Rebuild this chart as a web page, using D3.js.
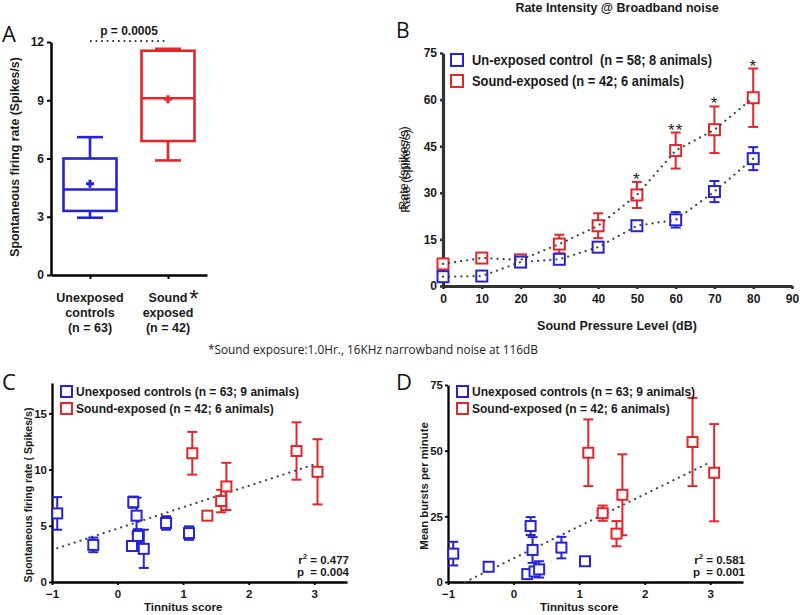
<!DOCTYPE html>
<html>
<head>
<meta charset="utf-8">
<script src="https://cdn.jsdelivr.net/npm/d3@7"></script>
<style>
  body { margin: 0; background: #fff; }
  svg { display: block; }
</style>
</head>
<body>
<svg id="chart" width="800" height="615"></svg>
<script>
// ---- panel A: box plot
const groupsA = ["Unexposed controls", "Sound exposed"];
const groupLinesA = [["Unexposed", "controls", "(n = 63)"], ["Sound", "exposed", "(n = 42)"]];
const boxMin = [2.95, 5.9];
const boxQ1 = [3.3, 6.9];
const boxMed = [4.4, 9.1];
const boxQ3 = [6.0, 11.55];
const boxMax = [7.1, 11.65];
const boxMean = [4.7, 9.05];
const ticksA = [0, 3, 6, 9, 12];

// ---- panel B: rate intensity
const splLevels = [0, 10, 20, 30, 40, 50, 60, 70, 80];
const ctrlRate = [3.0, 3.2, 7.7, 8.6, 12.5, 19.4, 21.3, 30.4, 41.0];
const ctrlErr = [0.8, 0.8, 1.5, 1.0, 1.5, 1.0, 2.5, 3.4, 3.7];
const expRate = [7.1, 9.0, 8.4, 13.5, 19.4, 29.3, 43.6, 50.3, 60.6];
const expErr = [1.2, 1.0, 1.0, 3.0, 4.0, 4.2, 5.8, 7.5, 9.4];
const sigMarks = ["", "", "", "", "", "*", "**", "*", "*"];
const ticksBx = [0, 10, 20, 30, 40, 50, 60, 70, 80, 90];
const ticksBy = [0, 15, 30, 45, 60, 75];

// ---- panel C: spontaneous rate vs tinnitus score
const ctrlScoreC = [-0.92, -0.37, 0.22, 0.24, 0.29, 0.31, 0.40, 0.74, 1.09];
const ctrlRateC = [6.1, 3.3, 3.2, 7.1, 5.9, 4.1, 2.95, 5.25, 4.35];
const ctrlErrC = [1.45, 0.65, 0.4, 0.5, 1.6, 0.6, 1.7, 0.6, 0.6];
const expScoreC = [1.14, 1.37, 1.58, 1.66, 2.73, 3.05];
const expRateC = [11.45, 5.9, 7.2, 8.5, 11.65, 9.8];
const expErrC = [1.9, 0, 1.0, 2.1, 2.55, 2.9];
const fitC = { intercept: 4.75, slope: 1.9, from: -0.92, to: 3.0 };
const statsC = ["0.477", "0.004"];

// ---- panel D: bursts vs tinnitus score
const ctrlScoreD = [-0.92, -0.38, 0.21, 0.26, 0.29, 0.32, 0.39, 0.73, 1.09];
const ctrlBurstD = [10.8, 5.8, 3.0, 21.3, 12.2, 4.0, 4.8, 13.1, 7.9];
const ctrlErrD = [4.5, 1.0, 0, 3.4, 4.9, 1.0, 3.1, 4.1, 0];
const expScoreD = [1.14, 1.36, 1.57, 1.66, 2.73, 3.06];
const expBurstD = [49.2, 26.2, 18.4, 33.2, 53.3, 41.6];
const expErrD = [12.7, 2.9, 4.8, 15.4, 16.8, 18.5];
const fitD = { intercept: 9.0, slope: 12.2, from: -0.74, to: 2.97 };
const statsD = ["0.581", "0.001"];
const ticksScore = [-1, 0, 1, 2, 3];

const BLUE = "#2424d6";
const RED = "#e3262b";
const FONT = "'Liberation Sans', Arial, sans-serif";
const SOFT = "'Open Sans', 'Noto Sans', sans-serif";

const svg = d3.select("#chart");

function styleAxis(g, w, color, size) {
  g.select(".domain").attr("stroke", color || "#000").attr("stroke-width", w);
  g.selectAll(".tick line").attr("stroke", color || "#000").attr("stroke-width", w * 0.8);
  g.selectAll(".tick text")
    .attr("font-family", FONT)
    .attr("font-weight", "bold")
    .attr("font-size", size || 12)
    .attr("fill", "#1a1a1a");
}

function label(g, txt, x, y, opts) {
  opts = opts || {};
  return g.append("text")
    .attr("x", x).attr("y", y)
    .attr("font-family", opts.family || FONT)
    .attr("font-weight", opts.weight || "bold")
    .attr("font-size", opts.size || 12)
    .attr("text-anchor", opts.anchor || "start")
    .attr("fill", opts.fill || "#1a1a1a")
    .attr("transform", opts.rotate ? `rotate(-90,${x},${y})` : null)
    .style("white-space", "pre")
    .text(txt);
}

// ================= Panel A =================
{
  const g = svg.append("g");
  const x = d3.scalePoint().domain(groupsA).range([51, 207]).padding(0.5);
  const y = d3.scaleLinear().domain([0, 12]).range([275, 42]);
  const colors = [BLUE, RED];
  const bw = 53;

  g.append("g").attr("transform", "translate(51,0)")
    .call(d3.axisLeft(y).tickValues(ticksA).tickSize(4).tickSizeOuter(0))
    .call((a) => styleAxis(a, 2.5));
  g.append("g").attr("transform", "translate(0,275)")
    .call(d3.axisBottom(x).tickSize(4).tickSizeOuter(0).tickFormat(""))
    .call((a) => styleAxis(a, 2.5));

  groupsA.forEach((grp, i) => {
    const cx = x(grp);
    const c = colors[i];
    const bg = g.append("g").attr("stroke", c).attr("stroke-width", 2.6).attr("fill", "none");
    // whiskers
    bg.append("line").attr("x1", cx).attr("x2", cx).attr("y1", y(boxMax[i])).attr("y2", y(boxQ3[i]));
    bg.append("line").attr("x1", cx).attr("x2", cx).attr("y1", y(boxQ1[i])).attr("y2", y(boxMin[i]));
    bg.append("line").attr("x1", cx - 13).attr("x2", cx + 13).attr("y1", y(boxMax[i])).attr("y2", y(boxMax[i]));
    bg.append("line").attr("x1", cx - 13).attr("x2", cx + 13).attr("y1", y(boxMin[i])).attr("y2", y(boxMin[i]));
    bg.append("rect").attr("x", cx - bw / 2).attr("width", bw)
      .attr("y", y(boxQ3[i])).attr("height", y(boxQ1[i]) - y(boxQ3[i]));
    bg.append("line").attr("x1", cx - bw / 2).attr("x2", cx + bw / 2).attr("y1", y(boxMed[i])).attr("y2", y(boxMed[i]));
    // mean plus
    bg.append("line").attr("x1", cx - 4).attr("x2", cx + 4).attr("y1", y(boxMean[i])).attr("y2", y(boxMean[i])).attr("stroke-width", 3);
    bg.append("line").attr("x1", cx).attr("x2", cx).attr("y1", y(boxMean[i]) - 4).attr("y2", y(boxMean[i]) + 4).attr("stroke-width", 3);

    groupLinesA[i].forEach((ln, k) => label(g, ln, cx, 302 + k * 15, { anchor: "middle", size: 12.5 }));
  });
  label(g, "*", 194, 307, { size: 24, weight: "normal", anchor: "middle" });

  // significance bar
  g.append("line").attr("x1", x(groupsA[0])).attr("x2", x(groupsA[1])).attr("y1", 41).attr("y2", 41)
    .attr("stroke", "#333").attr("stroke-width", 1.8).attr("stroke-dasharray", "1.6,4");
  label(g, "p = 0.0005", (x(groupsA[0]) + x(groupsA[1])) / 2, 35, { anchor: "middle", size: 12 });

  label(g, "Spontaneous firing rate (Spikes/s)", 19, 157, { anchor: "middle", rotate: true, size: 12.3 });
  label(g, "A", 2, 42, { family: SOFT, weight: "normal", size: 22, fill: "#111" });
}

// ================= Panel B =================
{
  const g = svg.append("g");
  const x = d3.scaleLinear().domain([0, 90]).range([443, 792]);
  const y = d3.scaleLinear().domain([0, 75]).range([286, 53]);

  g.append("g").attr("transform", "translate(443,0)")
    .call(d3.axisLeft(y).tickValues(ticksBy).tickSize(3).tickSizeOuter(0))
    .call((a) => styleAxis(a, 3.2, "#333"));
  g.append("g").attr("transform", "translate(0,286)")
    .call(d3.axisBottom(x).tickValues(ticksBx).tickSize(3).tickSizeOuter(0).tickPadding(5))
    .call((a) => styleAxis(a, 3.2, "#333"));

  const series = [
    { v: expRate, e: expErr, c: RED },
    { v: ctrlRate, e: ctrlErr, c: BLUE }
  ];
  const line = d3.line().x((d) => x(d[0])).y((d) => y(d[1]));
  series.forEach((s) => {
    const pts = splLevels.map((l, i) => [l, s.v[i], s.e[i]]);
    const eg = g.append("g").attr("stroke", s.c).attr("stroke-width", 2);
    pts.forEach((p) => {
      if (p[2] <= 0) return;
      eg.append("line").attr("x1", x(p[0])).attr("x2", x(p[0])).attr("y1", y(p[1] + p[2])).attr("y2", y(p[1] - p[2]));
      eg.append("line").attr("x1", x(p[0]) - 5).attr("x2", x(p[0]) + 5).attr("y1", y(p[1] + p[2])).attr("y2", y(p[1] + p[2]));
      eg.append("line").attr("x1", x(p[0]) - 5).attr("x2", x(p[0]) + 5).attr("y1", y(p[1] - p[2])).attr("y2", y(p[1] - p[2]));
    });
    g.append("g").selectAll("rect").data(pts).join("rect")
      .attr("x", (d) => x(d[0]) - 5.5).attr("y", (d) => y(d[1]) - 5.5)
      .attr("width", 11).attr("height", 11)
      .attr("fill", "#fff").attr("stroke", s.c).attr("stroke-width", 2);
  });
  series.forEach((s) => {
    g.append("path")
      .datum(splLevels.map((l, i) => [l, s.v[i]]))
      .attr("d", line).attr("fill", "none")
      .attr("stroke", "#444").attr("stroke-width", 2.2)
      .attr("stroke-linecap", "round").attr("stroke-dasharray", "0.1,6");
  });

  splLevels.forEach((l, i) => {
    if (!sigMarks[i]) return;
    label(g, sigMarks[i], x(l), y(expRate[i] + expErr[i]) + 3, { anchor: "middle", size: 17, weight: "normal", fill: "#222" })
      .attr("letter-spacing", 1);
  });

  // legend
  const legB = [["Un-exposed control  (n = 58; 8 animals)", BLUE, 240], ["Sound-exposed (n = 42; 6 animals)", RED, 212]];
  legB.forEach((d, i) => {
    g.append("rect").attr("x", 451).attr("y", 54 + i * 21).attr("width", 12).attr("height", 12)
      .attr("fill", "none").attr("stroke", d[1]).attr("stroke-width", 2);
    label(g, d[0], 472, 65 + i * 21, { size: 14 })
      .attr("textLength", d[2]).attr("lengthAdjust", "spacingAndGlyphs");
  });

  label(g, "Rate Intensity @ Broadband noise", 617, 12, { anchor: "middle", size: 12.5 });
  label(g, "Sound Pressure Level (dB)", 617, 330, { anchor: "middle", size: 12.5 });
  label(g, "Rate (spikes/s)", 408, 168, { anchor: "middle", rotate: true, size: 12.5, weight: "normal" });
  label(g, "Rate (spikes/s)", 410, 171, { anchor: "middle", rotate: true, size: 12.5, weight: "normal" });
  label(g, "B", 396, 38, { family: SOFT, weight: "normal", size: 21, fill: "#111" });
}

// footnote
label(svg, "*Sound exposure:1.0Hr., 16KHz narrowband noise at 116dB", 208, 354, { family: SOFT, weight: "normal", size: 12, fill: "#222" })
  .attr("textLength", 330).attr("lengthAdjust", "spacingAndGlyphs");

// ================= Panels C & D =================
function scatterPanel(cfg) {
  const g = svg.append("g");
  const x = d3.scaleLinear().domain([-1, 3.5]).range([cfg.x0, cfg.x0 + 295]);
  const y = d3.scaleLinear().domain([0, cfg.yMax]).range([582, cfg.yTop]);

  g.append("g").attr("transform", `translate(${cfg.x0},0)`)
    .call(d3.axisLeft(y).tickValues(cfg.yTicks).tickSize(3).tickPadding(2).tickSizeOuter(0))
    .call((a) => styleAxis(a, 2.3, "#000", 11.5));
  g.append("g").attr("transform", "translate(0,582)")
    .call(d3.axisBottom(x).tickValues(ticksScore).tickFormat(d3.format("d")).tickSize(3).tickPadding(5).tickSizeOuter(0))
    .call((a) => styleAxis(a, 2.3, "#000", 11.5));

  // regression line
  g.append("line")
    .attr("x1", x(cfg.fit.from)).attr("y1", y(cfg.fit.intercept + cfg.fit.slope * cfg.fit.from))
    .attr("x2", x(cfg.fit.to)).attr("y2", y(cfg.fit.intercept + cfg.fit.slope * cfg.fit.to))
    .attr("stroke", "#444").attr("stroke-width", 2.2)
    .attr("stroke-linecap", "round").attr("stroke-dasharray", "0.1,6");

  cfg.series.forEach((s) => {
    const pts = s.sx.map((v, i) => [v, s.sy[i], s.se[i]]);
    const eg = g.append("g").attr("stroke", s.c).attr("stroke-width", 2);
    pts.forEach((p) => {
      if (p[2] <= 0) return;
      eg.append("line").attr("x1", x(p[0])).attr("x2", x(p[0])).attr("y1", y(p[1] + p[2])).attr("y2", y(p[1] - p[2]));
      eg.append("line").attr("x1", x(p[0]) - 5).attr("x2", x(p[0]) + 5).attr("y1", y(p[1] + p[2])).attr("y2", y(p[1] + p[2]));
      eg.append("line").attr("x1", x(p[0]) - 5).attr("x2", x(p[0]) + 5).attr("y1", y(p[1] - p[2])).attr("y2", y(p[1] - p[2]));
    });
    g.append("g").selectAll("rect").data(pts).join("rect")
      .attr("x", (d) => x(d[0]) - 5).attr("y", (d) => y(d[1]) - 5)
      .attr("width", 10).attr("height", 10)
      .attr("fill", "#fff").attr("stroke", s.c).attr("stroke-width", 2);
  });

  const leg = [["Unexposed controls (n = 63; 9 animals)", BLUE], ["Sound-exposed (n = 42; 6 animals)", RED]];
  leg.forEach((d, i) => {
    g.append("rect").attr("x", cfg.x0 + 9).attr("y", 386 + i * 17).attr("width", 11).attr("height", 11)
      .attr("fill", "none").attr("stroke", d[1]).attr("stroke-width", 2);
    label(g, d[0], cfg.x0 + 24, 396 + i * 17, { size: 12 });
  });

  const sx = cfg.x0 + 297;
  const t1 = label(g, "", sx, 564, { anchor: "end", size: 11.5 });
  t1.append("tspan").text("r");
  t1.append("tspan").attr("dy", -5).attr("font-size", 8).text("2");
  t1.append("tspan").attr("dy", 5).text(" = " + cfg.stats[0]);
  label(g, "p  = " + cfg.stats[1], sx, 576, { anchor: "end", size: 11.5 });

  label(g, "Tinnitus score", x(1), 611, { anchor: "middle", size: 11.5 });
  label(g, cfg.yLabel, cfg.yLabelX, cfg.yLabelY, { anchor: "middle", rotate: true, size: cfg.yLabelSize });
  label(g, cfg.letter, cfg.letterX, 390, { family: SOFT, weight: "normal", size: 22, fill: "#111" });
}

scatterPanel({
  x0: 52, yMax: 17.7, yTop: 383, yTicks: [0, 5, 10, 15],
  fit: fitC, stats: statsC,
  series: [
    { sx: ctrlScoreC, sy: ctrlRateC, se: ctrlErrC, c: BLUE },
    { sx: expScoreC, sy: expRateC, se: expErrC, c: RED }
  ],
  yLabel: "Spontaneous firing rate ( Spikes/s)", yLabelX: 32, yLabelY: 495, yLabelSize: 10.6,
  letter: "C", letterX: 2
});

scatterPanel({
  x0: 448, yMax: 75, yTop: 385, yTicks: [0, 25, 50, 75],
  fit: fitD, stats: statsD,
  series: [
    { sx: ctrlScoreD, sy: ctrlBurstD, se: ctrlErrD, c: BLUE },
    { sx: expScoreD, sy: expBurstD, se: expErrD, c: RED }
  ],
  yLabel: "Mean bursts per minute", yLabelX: 428, yLabelY: 486, yLabelSize: 11.3,
  letter: "D", letterX: 396
});
</script>
</body>
</html>
